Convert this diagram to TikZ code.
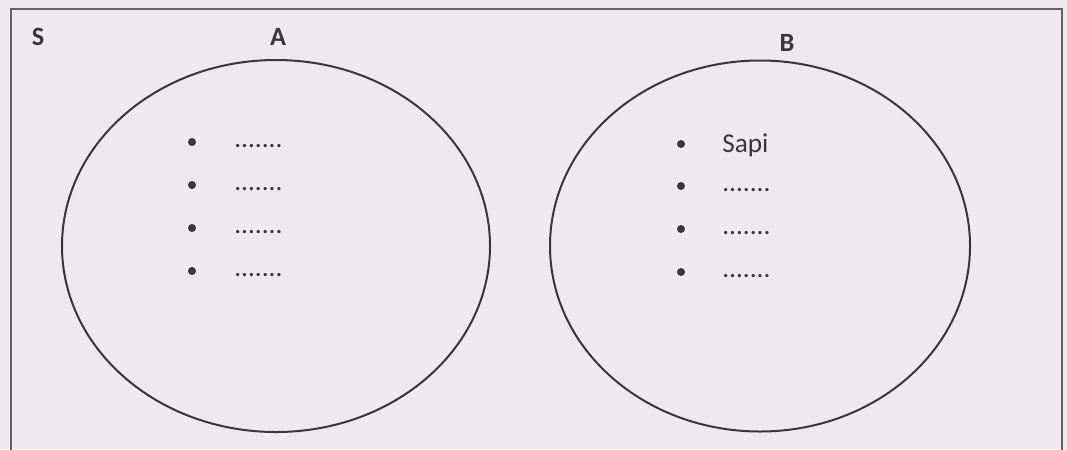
\documentclass[tikz,border=0pt]{standalone}
\usepackage{fontspec}
\setmainfont{Carlito}
\usetikzlibrary{positioning,shapes.geometric}
\definecolor{paper}{RGB}{236,234,238}
\definecolor{ink}{RGB}{55,55,58}
\definecolor{frameclr}{RGB}{100,100,103}
\tikzset{
    setbox/.style={ellipse,draw=ink,line width=0.4mm,inner sep=0pt},
    setlbl/.style={font=\fontsize{15}{17}\selectfont\bfseries,text=ink,inner sep=0pt},
    bul/.style={circle,fill=ink,minimum size=1.6mm,inner sep=0pt},
    item/.style={anchor=west,font=\fontsize{15.5}{18}\selectfont,text=ink,inner sep=0pt},
}
\begin{document}
\begin{tikzpicture}[x=0.2mm,y=-0.2mm]
\useasboundingbox[fill=paper] (0,0) rectangle (1067,449);
\draw[frameclr,line width=0.4mm] (11,9) rectangle (1062,470);

\node[setlbl] (S) at (38,37) {S};
\node[setlbl] (A) at (278,37) {A};
\node[setlbl] (B) at (787,43) {B};

\node[setbox,minimum width=85.6mm,minimum height=74.4mm] (SetA) at (276,246) {};
\node[setbox,minimum width=84mm,minimum height=74.2mm] (SetB) at (760,246) {};

% set A
\node[bul] (a1) at (192,142) {};
\node[bul] (a2) at (192,185) {};
\node[bul] (a3) at (192,228) {};
\node[bul] (a4) at (192,271) {};
\node[item] (ta1) at (234,146) {.......};
\node[item] (ta2) at (234,189) {.......};
\node[item] (ta3) at (234,232) {.......};
\node[item] (ta4) at (234,275) {.......};

% set B
\node[bul] (b1) at (681,144) {};
\node[bul] (b2) at (681,186) {};
\node[bul] (b3) at (681,229) {};
\node[bul] (b4) at (681,272) {};
\node[item,anchor=base west] (tb1) at (722,152) {Sapi};
\node[item] (tb2) at (722,190) {.......};
\node[item] (tb3) at (722,233) {.......};
\node[item] (tb4) at (722,276) {.......};
\end{tikzpicture}
\end{document}
